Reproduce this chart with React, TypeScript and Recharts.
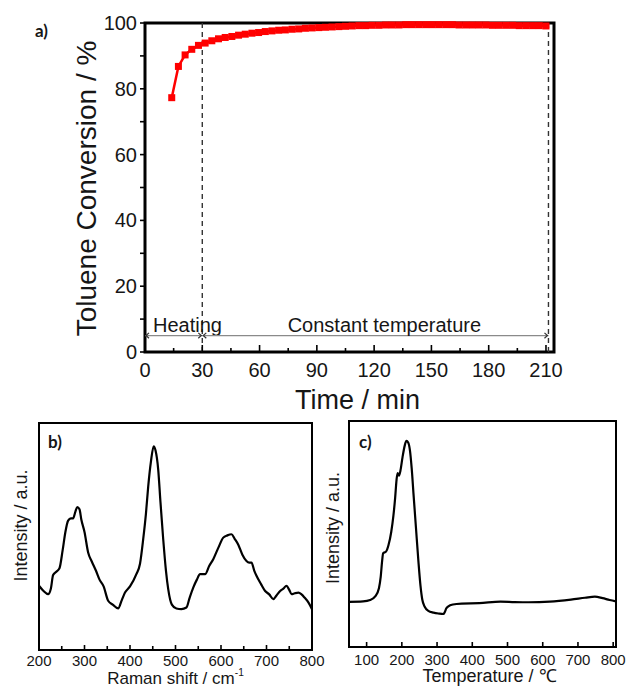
import { Label, Line, LineChart, ReferenceArea, ReferenceLine, XAxis, YAxis } from 'recharts';

// panel a: toluene conversion vs time
const timeMin = [
  14, 17.5, 21, 24.5, 28, 31.5, 35, 38.5, 42, 45.5, 49, 52.5, 56, 59.5, 63, 66.5, 70, 73.5, 77, 80.5,
  84, 87.5, 91, 94.5, 98, 101.5, 105, 108.5, 112, 115.5, 119, 122.5, 126, 129.5, 133, 136.5, 140, 143.5,
  147, 150.5, 154, 157.5, 161, 164.5, 168, 171.5, 175, 178.5, 182, 185.5, 189, 192.5, 196, 199.5, 203,
  206.5, 210,
];
const conversion = [
  77.3, 86.8, 90.3, 92.0, 93.2, 93.9, 94.6, 95.2, 95.6, 95.9, 96.3, 96.6, 96.9, 97.1, 97.4, 97.6, 97.8,
  97.9, 98.1, 98.2, 98.4, 98.5, 98.6, 98.7, 98.8, 98.9, 99.0, 99.1, 99.2, 99.2, 99.3, 99.3, 99.4, 99.4,
  99.4, 99.5, 99.5, 99.5, 99.5, 99.5, 99.5, 99.5, 99.5, 99.4, 99.4, 99.4, 99.4, 99.4, 99.3, 99.3, 99.3,
  99.3, 99.2, 99.2, 99.2, 99.2, 99.1,
];
const timeTicks = [0, 15, 30, 45, 60, 75, 90, 105, 120, 135, 150, 165, 180, 195, 210];
const convTicks = [0, 10, 20, 30, 40, 50, 60, 70, 80, 90, 100];
const heatingEnd = 30;
const runEnd = 211.3;

// panel b: Raman spectrum
const ramanShift = [
  200, 210, 220, 226, 231, 238, 245, 252, 258, 264, 270, 275, 280, 284, 289, 293, 300, 308, 316, 325,
  333, 342, 352, 362, 374, 382, 389, 400, 414, 422, 429, 435, 440, 446, 452, 456, 462, 467, 473, 479,
  484, 492, 502, 513, 524, 531, 539, 547, 554, 560, 565, 574, 583, 594, 605, 614, 623, 630, 638, 647,
  656, 662, 667, 673, 678, 688, 697, 706, 715, 722, 730, 737, 744, 750, 755, 762, 770, 777, 784, 792,
  800,
];
const ramanIntensity = [
  28.3, 26, 24.6, 27, 33, 34.5, 36, 44, 52, 57, 58, 58, 61, 63, 62, 57.5, 52, 43, 39, 35, 31, 28, 21.7,
  20, 18.3, 22, 25.3, 28, 33.4, 38, 48.8, 60, 72, 83, 89.7, 88, 79.5, 65, 48.8, 35, 26.8, 20, 18.3, 18,
  18.7, 23, 27.5, 31, 33.4, 33.4, 33.4, 37, 40, 45, 49.5, 50.5, 51, 49, 46.4, 42, 39.2, 38.5, 38.5, 35,
  32.7, 29, 26, 24.5, 22.4, 24, 26, 27, 28.3, 26.5, 24.6, 25, 25.3, 24.5, 23, 21, 18,
];
const ramanTicks = [200, 250, 300, 350, 400, 450, 500, 550, 600, 650, 700, 750, 800];

// panel c: H2-TPR profile
const tprTemp = [
  50, 90, 110, 125, 135, 140, 144, 147, 155, 162, 170, 176, 181, 185, 188, 192, 196, 202, 208, 213, 218,
  223, 228, 233, 240, 247, 253, 258, 265, 275, 290, 305, 318, 322, 326, 332, 345, 370, 420, 480, 520,
  560, 620, 680, 720, 748, 770, 790, 808,
];
const tprSignal = [
  20, 20.2, 20.8, 22.5, 26, 31, 38, 41.5, 42.2, 45, 51, 58, 66, 74, 77, 75.8, 78, 84, 89, 91.2, 90.5,
  87, 79, 68, 53, 38, 27, 21, 17.8, 16, 15.2, 14.8, 14.6, 15.5, 17, 18, 18.8, 19.2, 19.4, 20.1, 19.9,
  19.8, 20.1, 21, 21.8, 22.3, 21.6, 20.8, 20.2,
];
const tprTicks = [100, 200, 300, 400, 500, 600, 700, 800];

const convData = timeMin.map((t, i) => ({ t, v: conversion[i] }));
const ramanData = ramanShift.map((t, i) => ({ t, v: ramanIntensity[i] }));
const tprData = tprTemp.map((t, i) => ({ t, v: tprSignal[i] }));

const FONT = "'Liberation Sans', Arial, Helvetica, sans-serif";
const INK = '#161616';

function BottomTick(props: any) {
  const { x, y, payload, every, len, minorLen, fontSize, gap } = props;
  const v = payload.value;
  const major = v % every === 0;
  return (
    <g>
      <line x1={x} x2={x} y1={y} y2={y - (major ? len : minorLen)} stroke="#000" strokeWidth={1.6} />
      {major && (
        <text x={x} y={y + gap} textAnchor="middle" dominantBaseline="central" fontSize={fontSize} fill={INK}>
          {v}
        </text>
      )}
    </g>
  );
}

function LeftTick(props: any) {
  const { x, y, payload } = props;
  const v = payload.value;
  return (
    <g>
      <line x1={x} x2={x - 5} y1={y} y2={y} stroke="#000" strokeWidth={1.6} />
      {v % 20 === 0 && (
        <text x={x - 8} y={y} textAnchor="end" dominantBaseline="central" fontSize={20} fill={INK}>
          {v}
        </text>
      )}
    </g>
  );
}

function arrowShape(text: string, anchor: 'start' | 'middle', shift: number) {
  return (p: any) => {
    const { x1, x2, y1 } = p;
    const a = 4;
    const tx = anchor === 'start' ? x1 + shift : (x1 + x2) / 2 + shift;
    return (
      <g>
        <line x1={x1} x2={x2} y1={y1} y2={y1} stroke="#8a8a8a" strokeWidth={1.2} />
        <polyline points={`${x1 + a},${y1 - a / 1.5} ${x1 + 1},${y1} ${x1 + a},${y1 + a / 1.5}`} fill="none" stroke="#333" strokeWidth={1.2} />
        <polyline points={`${x2 - a},${y1 - a / 1.5} ${x2 - 1},${y1} ${x2 - a},${y1 + a / 1.5}`} fill="none" stroke="#333" strokeWidth={1.2} />
        <text x={tx} y={y1 - 4} textAnchor={anchor} fontSize={20} fill={INK}>
          {text}
        </text>
      </g>
    );
  };
}

function rotatedTitle(text: string, dx: number, dy: number, size: number) {
  return (p: any) => {
    const vb = p.viewBox;
    const cx = vb.x + vb.width / 2 + dx;
    const cy = vb.y + vb.height / 2 + dy;
    return (
      <text
        transform={`translate(${cx},${cy}) rotate(-90)`}
        textAnchor="middle"
        dominantBaseline="central"
        fontSize={size}
        fill={INK}
      >
        {text}
      </text>
    );
  };
}

function bottomTitle(dx: number, dy: number, size: number, main: string, sup?: string) {
  return (p: any) => {
    const vb = p.viewBox;
    return (
      <text x={vb.x + vb.width / 2 + dx} y={vb.y + dy} textAnchor="middle" dominantBaseline="central" fontSize={size} fill={INK}>
        {main}
        {sup && (
          <tspan dy={-7} fontSize={size * 0.6}>
            {sup}
          </tspan>
        )}
      </text>
    );
  };
}

function squareDot(p: any) {
  return <rect key={p.index} x={p.cx - 3.5} y={p.cy - 3.5} width={7} height={7} fill="#ff0000" />;
}

const panelTag = { position: 'absolute' as const, fontFamily: "Lato, 'Open Sans', sans-serif", fontWeight: 700, fontSize: 17, color: INK, lineHeight: 1 };

export default function App() {
  return (
    <div style={{ position: 'absolute', left: 0, top: 0, width: 628, height: 688, background: '#fff', fontFamily: FONT, overflow: 'hidden' }}>
      <div style={{ ...panelTag, left: 35, top: 22 }}>a)</div>
      <div style={{ ...panelTag, left: 48, top: 433 }}>b)</div>
      <div style={{ ...panelTag, left: 359, top: 433 }}>c)</div>

      <div style={{ position: 'absolute', left: 0, top: 0 }}>
        <LineChart width={628} height={420} data={convData} margin={{ top: 23, right: 74, bottom: 28, left: 0 }}>
          <XAxis
            dataKey="t"
            type="number"
            domain={[0, 214.2]}
            ticks={timeTicks}
            interval={0}
            tickSize={0}
            tickMargin={0}
            axisLine={false}
            tick={<BottomTick every={30} len={7} minorLen={4} fontSize={20} gap={18} />}
            height={40}
          >
            <Label content={bottomTitle(8, 48, 27, 'Time / min')} />
          </XAxis>
          <YAxis
            type="number"
            domain={[0, 100]}
            ticks={convTicks}
            interval={0}
            tickSize={0}
            tickMargin={0}
            axisLine={false}
            tick={<LeftTick />}
            width={145}
          >
            <Label content={rotatedTitle('Toluene Conversion / %', 14, 1, 28)} />
          </YAxis>
          <ReferenceArea x1={0} x2={214.2} y1={0} y2={100} fill="none" stroke="#000" strokeWidth={3} ifOverflow="visible" />
          <ReferenceLine x={heatingEnd} stroke="#333" strokeDasharray="5 4" strokeWidth={1.4} />
          <ReferenceLine x={runEnd} stroke="#333" strokeDasharray="5 4" strokeWidth={1.4} />
          <ReferenceLine
            segment={[{ x: 0, y: 5 }, { x: heatingEnd, y: 5 }]}
            shape={arrowShape('Heating', 'start', 8)}
          />
          <ReferenceLine
            segment={[{ x: heatingEnd, y: 5 }, { x: runEnd, y: 5 }]}
            shape={arrowShape('Constant temperature', 'middle', 9)}
          />
          <Line
            dataKey="v"
            stroke="#ff0000"
            strokeWidth={2.5}
            dot={squareDot}
            isAnimationActive={false}
          />
        </LineChart>
      </div>

      <div style={{ position: 'absolute', left: 0, top: 410 }}>
        <LineChart width={328} height={278} data={ramanData} margin={{ top: 13, right: 16, bottom: 0, left: 0 }}>
          <XAxis
            dataKey="t"
            type="number"
            domain={[200, 800]}
            ticks={ramanTicks}
            interval={0}
            tickSize={0}
            tickMargin={0}
            axisLine={false}
            tick={<BottomTick every={100} len={5} minorLen={4} fontSize={15} gap={10} />}
            height={38}
          >
            <Label content={bottomTitle(0, 28.5, 17, 'Raman shift / cm', '-1')} />
          </XAxis>
          <YAxis type="number" domain={[0, 100]} tick={false} axisLine={false} tickLine={false} width={39}>
            <Label content={rotatedTitle('Intensity / a.u.', 1, -11, 18)} />
          </YAxis>
          <ReferenceArea x1={200} x2={800} y1={0} y2={100} fill="none" stroke="#000" strokeWidth={2} ifOverflow="visible" />
          <Line dataKey="v" type="monotone" stroke="#000" strokeWidth={2.2} dot={false} isAnimationActive={false} />
        </LineChart>
      </div>

      <div style={{ position: 'absolute', left: 320, top: 410 }}>
        <LineChart width={308} height={278} data={tprData} margin={{ top: 11, right: 12, bottom: 0, left: 0 }}>
          <XAxis
            dataKey="t"
            type="number"
            domain={[50, 808]}
            ticks={tprTicks}
            interval={0}
            tickSize={0}
            tickMargin={0}
            axisLine={false}
            tick={<BottomTick every={100} len={5} minorLen={4} fontSize={15} gap={12} />}
            height={41}
          >
            <Label content={bottomTitle(7, 29, 18, 'Temperature / ℃')} />
          </XAxis>
          <YAxis type="number" domain={[0, 100]} tick={false} axisLine={false} tickLine={false} width={29}>
            <Label content={rotatedTitle('Intensity / a.u.', -2, -6, 18)} />
          </YAxis>
          <ReferenceArea x1={50} x2={808} y1={0} y2={100} fill="none" stroke="#000" strokeWidth={2} ifOverflow="visible" />
          <Line dataKey="v" type="monotone" stroke="#000" strokeWidth={2.2} dot={false} isAnimationActive={false} />
        </LineChart>
      </div>
    </div>
  );
}
